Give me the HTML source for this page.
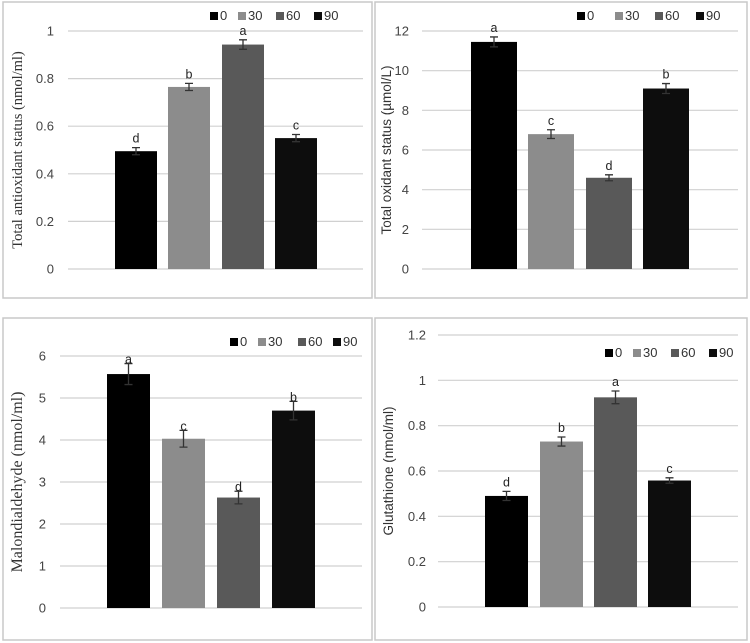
<!DOCTYPE html>
<html><head><meta charset="utf-8"><style>
body{margin:0;background:#fff;width:750px;height:643px;overflow:hidden}
svg{display:block}
.tk{font-family:"Liberation Sans",sans-serif;font-size:13px;fill:#444}
.lt{font-family:"Liberation Sans",sans-serif;font-size:12.5px;fill:#222}
.lg{font-family:"Liberation Sans",sans-serif;font-size:13px;fill:#333}
</style></head><body>
<svg id="c" width="750" height="643"></svg>
<script>
const categories=["0","30","60","90"];
const colors=["#000000","#8c8c8c","#595959","#0d0d0d"];
const taValues=[0.495,0.765,0.943,0.55];
const taErrors=[0.015,0.015,0.02,0.015];
const taLetters=["d","b","a","c"];
const taTicks=[0,0.2,0.4,0.6,0.8,1];
const tosValues=[11.45,6.8,4.6,9.1];
const tosErrors=[0.25,0.22,0.15,0.25];
const tosLetters=["a","c","d","b"];
const tosTicks=[0,2,4,6,8,10,12];
const mdaValues=[5.57,4.03,2.63,4.7];
const mdaErrors=[0.25,0.2,0.15,0.22];
const mdaLetters=["a","c","d","b"];
const mdaTicks=[0,1,2,3,4,5,6];
const gshValues=[0.49,0.73,0.925,0.558];
const gshErrors=[0.02,0.02,0.028,0.012];
const gshLetters=["d","b","a","c"];
const gshTicks=[0,0.2,0.4,0.6,0.8,1,1.2];

const NS="http://www.w3.org/2000/svg";
const svg=document.getElementById('c');
function mk(t,a,p){const e=document.createElementNS(NS,t);for(const k in a)e.setAttribute(k,a[k]);(p||svg).appendChild(e);return e;}

function panel(cfg){
  const g=mk('g',{});
  
  
  const box=mk('rect',{x:cfg.box[0],y:cfg.box[1],width:cfg.box[2],height:cfg.box[3],fill:'none',stroke:'#c8c8c8','stroke-width':1.5},g);
  
  
  const maxT=cfg.ticks[cfg.ticks.length-1];
  const y=v=>cfg.y0-(v/maxT)*(cfg.y0-cfg.yTop);
  cfg.ticks.forEach(t=>{
    const l=mk('line',{x1:cfg.x0,x2:cfg.x1,y1:y(t),y2:y(t),stroke:'#d0d0d0','stroke-width':1.2},g);
    
    
    const tx=mk('text',{x:cfg.tickX,y:y(t)+4.5,'text-anchor':'end',class:'tk'},g);
    tx.textContent=String(t);
    
    
  });
  cfg.values.forEach((v,i)=>{
    const bx=cfg.barX[i],bw=cfg.barW;
    const r=mk('rect',{x:bx,y:y(v),width:bw,height:cfg.y0-y(v),fill:colors[i]},g);
    
    
    const cx=bx+bw/2,e=cfg.errors[i];
    const eb=mk('path',{d:`M${cx-4},${y(v+e)}H${cx+4}M${cx},${y(v+e)}V${y(v-e)}M${cx-4},${y(v-e)}H${cx+4}`,stroke:'#333','stroke-width':1.3,fill:'none'},g);
    
    
    const lt=mk('text',{x:cx,y:y(v+e)-(cfg.letterGap==null?5:cfg.letterGap),'text-anchor':'middle',class:'lt'},g);
    lt.textContent=cfg.letters[i];
    
    
  });
  let lx=cfg.legX;
  categories.forEach((c,i)=>{
    const s=mk('rect',{x:lx,y:cfg.legY-8,width:8,height:8,fill:colors[i]},g);
    
    
    const t=mk('text',{x:lx+10,y:cfg.legY,class:'lg'},g);
    t.textContent=c;
    
    
    lx+=cfg.legStep[i];
  });
  const yt=mk('text',{x:0,y:0,'text-anchor':'middle',transform:`translate(${cfg.titleX},${(cfg.y0+cfg.yTop)/2}) rotate(-90)`,style:cfg.serif?`font-family:"Liberation Serif",serif;font-size:${cfg.titleSize||14}px;fill:#333`:'font-family:"Liberation Sans",sans-serif;font-size:13.5px;fill:#333'},g);
  yt.textContent=cfg.title;
  
  
}

panel({name:'total-antioxidant-panel',box:[3,2,369,296],x0:68,x1:363,y0:269,yTop:31,ticks:taTicks,tickX:54,values:taValues,errors:taErrors,letters:taLetters,barX:[115,168,222,275],barW:42,legX:210,legY:20,legStep:[28,38,38,40],title:'Total antioxidant status (nmol/ml)',titleX:22,serif:true,titleSize:14.5});
panel({name:'total-oxidant-panel',box:[375,2,372,296],x0:422,x1:738,y0:269,yTop:31,ticks:tosTicks,tickX:409,values:tosValues,errors:tosErrors,letters:tosLetters,barX:[471,528,586,643],barW:46,legX:577,legY:20,legStep:[38,40,41,40],title:'Total oxidant status (µmol/L)',titleX:391,serif:false});
panel({name:'malondialdehyde-panel',box:[3,318,369,322],x0:60,x1:362,y0:608,yTop:356,ticks:mdaTicks,tickX:46,values:mdaValues,errors:mdaErrors,letters:mdaLetters,barX:[107,162,217,272],barW:43,legX:230,legY:346,legStep:[28,40,35,40],title:'Malondialdehyde (nmol/ml)',titleX:22,serif:true,titleSize:16,letterGap:0});
panel({name:'glutathione-panel',box:[375,318,372,322],x0:438,x1:738,y0:607,yTop:335,ticks:gshTicks,tickX:426,values:gshValues,errors:gshErrors,letters:gshLetters,barX:[485,540,594,648],barW:43,legX:605,legY:357,legStep:[28,38,38,40],title:'Glutathione (nmol/ml)',titleX:393,serif:false});
</script>
</body></html>
